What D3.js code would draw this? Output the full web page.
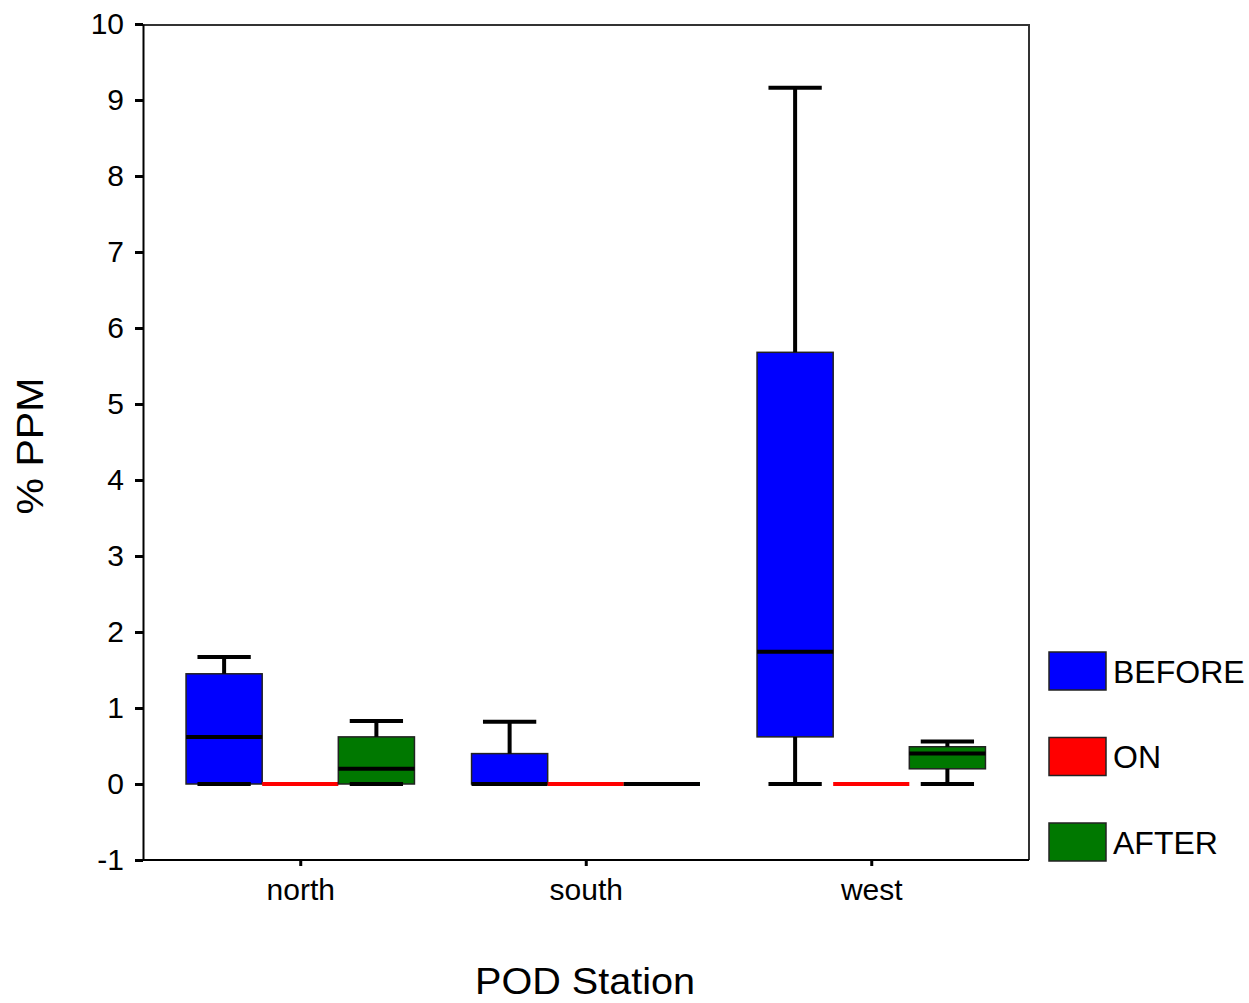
<!DOCTYPE html>
<html>
<head>
<meta charset="utf-8">
<script src="https://cdn.jsdelivr.net/npm/d3@7"></script>
<style>
  body { margin: 0; background: #fff; }
  text { font-family: Arial, "Liberation Sans", sans-serif; fill: #000; }
</style>
</head>
<body>
<svg id="chart" width="1249" height="1003"></svg>
<script>
// Box plot of % PPM by POD station, before / on / after

const stations = ['north', 'south', 'west']
const series   = ['BEFORE', 'ON', 'AFTER']
const colors   = ['#0000ff', '#ff0000', '#007800']
const yTicks   = [-1, 0, 1, 2, 3, 4, 5, 6, 7, 8, 9, 10]

// one row per station, one value per series (null = nothing drawn)
const mins    = [[0, null, 0],    [0, null, 0], [0, null, 0]]
const q1s     = [[0, 0, 0],       [0, 0, 0],    [0.62, 0, 0.2]]
const medians = [[0.62, null, 0.2], [0, null, 0], [1.74, null, 0.4]]
const q3s     = [[1.45, 0, 0.62], [0.4, 0, 0],  [5.68, 0, 0.49]]
const maxs    = [[1.67, null, 0.83], [0.82, null, 0], [9.16, null, 0.56]]

const svg = d3.select('#chart')

const y  = d3.scaleLinear([-1, 10], [860, 24])
const xo = d3.scaleBand(stations, [157.5, 1014]).paddingInner(0.2).paddingOuter(0.1)
const xi = d3.scaleBand(series, [0, xo.bandwidth()])
const BW = xi.bandwidth()
const CW = BW * 0.7 // whisker cap width

// frame (top and right)
svg.append('path')
  .attr('d', `M143,25H1029V860`)
  .attr('fill', 'none').attr('stroke', '#333').attr('stroke-width', 2)

// y axis
const ya = svg.append('g').attr('transform', 'translate(143,0)')
  .call(d3.axisLeft(y).tickValues(yTicks).tickFormat(d => String(d))
        .tickSize(8).tickPadding(11).tickSizeOuter(0))
ya.select('.domain').attr('stroke', '#000').attr('stroke-width', 2)
ya.selectAll('.tick line').attr('stroke-width', 3)
ya.selectAll('.tick text').style('font-size', '30px')

// x axis
const xa = svg.append('g').attr('transform', 'translate(0,860)')
  .call(d3.axisBottom(d3.scalePoint(stations, [xo('north') + xo.bandwidth()/2,
                                               xo('west') + xo.bandwidth()/2]))
        .tickSize(6).tickPadding(13).tickSizeOuter(0))
xa.select('.domain').attr('d', 'M143,0H1029').attr('stroke', '#000').attr('stroke-width', 2)
xa.selectAll('.tick line').attr('stroke-width', 3)
xa.selectAll('.tick text').style('font-size', '30px')

// boxes
const rows = []
stations.forEach((s, i) => series.forEach((k, j) => rows.push({
  s, k, c: colors[j],
  min: mins[i][j], q1: q1s[i][j], med: medians[i][j], q3: q3s[i][j], max: maxs[i][j],
  x: xo(s) + xi(k)
})))

const g = svg.append('g')

rows.forEach(d => {
  const cx = d.x + BW/2
  if (d.q3 > d.q1) {
    g.append('rect')
      .attr('x', d.x).attr('y', y(d.q3))
      .attr('width', BW).attr('height', y(d.q1) - y(d.q3))
      .attr('fill', d.c).attr('stroke', '#222').attr('stroke-width', 1.5)
  } else {
    g.append('line')
      .attr('x1', d.x).attr('x2', d.x + BW).attr('y1', y(d.q1)).attr('y2', y(d.q1))
      .attr('stroke', d.c).attr('stroke-width', 4)
  }
  // whiskers
  if (d.max != null) {
    g.append('line').attr('x1', cx).attr('x2', cx).attr('y1', y(d.q3)).attr('y2', y(d.max))
      .attr('stroke', '#000').attr('stroke-width', 4)
    g.append('line').attr('x1', cx - CW/2).attr('x2', cx + CW/2)
      .attr('y1', y(d.max)).attr('y2', y(d.max))
      .attr('stroke', '#000').attr('stroke-width', 4)
  }
  if (d.min != null) {
    g.append('line').attr('x1', cx).attr('x2', cx).attr('y1', y(d.q1)).attr('y2', y(d.min))
      .attr('stroke', '#000').attr('stroke-width', 4)
    g.append('line').attr('x1', cx - CW/2).attr('x2', cx + CW/2)
      .attr('y1', y(d.min)).attr('y2', y(d.min))
      .attr('stroke', '#000').attr('stroke-width', 4)
  }
  if (d.med != null) {
    g.append('line').attr('x1', d.x).attr('x2', d.x + BW)
      .attr('y1', y(d.med)).attr('y2', y(d.med))
      .attr('stroke', '#000').attr('stroke-width', 4)
  }
})

// legend
const lg = svg.append('g').selectAll('g').data(series).join('g')
  .attr('transform', (d, i) => `translate(1049,${652 + i*85.5})`)
lg.append('rect').attr('width', 57).attr('height', 38)
  .attr('fill', (d, i) => colors[i]).attr('stroke', '#222').attr('stroke-width', 1.5)
lg.append('text').attr('x', 64).attr('y', 19).attr('dy', '0.36em')
  .style('font-size', '32px').text(d => d)

// axis titles
svg.append('text')
  .attr('transform', 'translate(43,446) rotate(-90)')
  .attr('text-anchor', 'middle')
  .attr('textLength', 137).attr('lengthAdjust', 'spacingAndGlyphs')
  .style('font-size', '37px').text('% PPM')
svg.append('text')
  .attr('x', 585).attr('y', 994).attr('text-anchor', 'middle')
  .attr('textLength', 220).attr('lengthAdjust', 'spacingAndGlyphs')
  .style('font-size', '36px').text('POD Station')
</script>
</body>
</html>
